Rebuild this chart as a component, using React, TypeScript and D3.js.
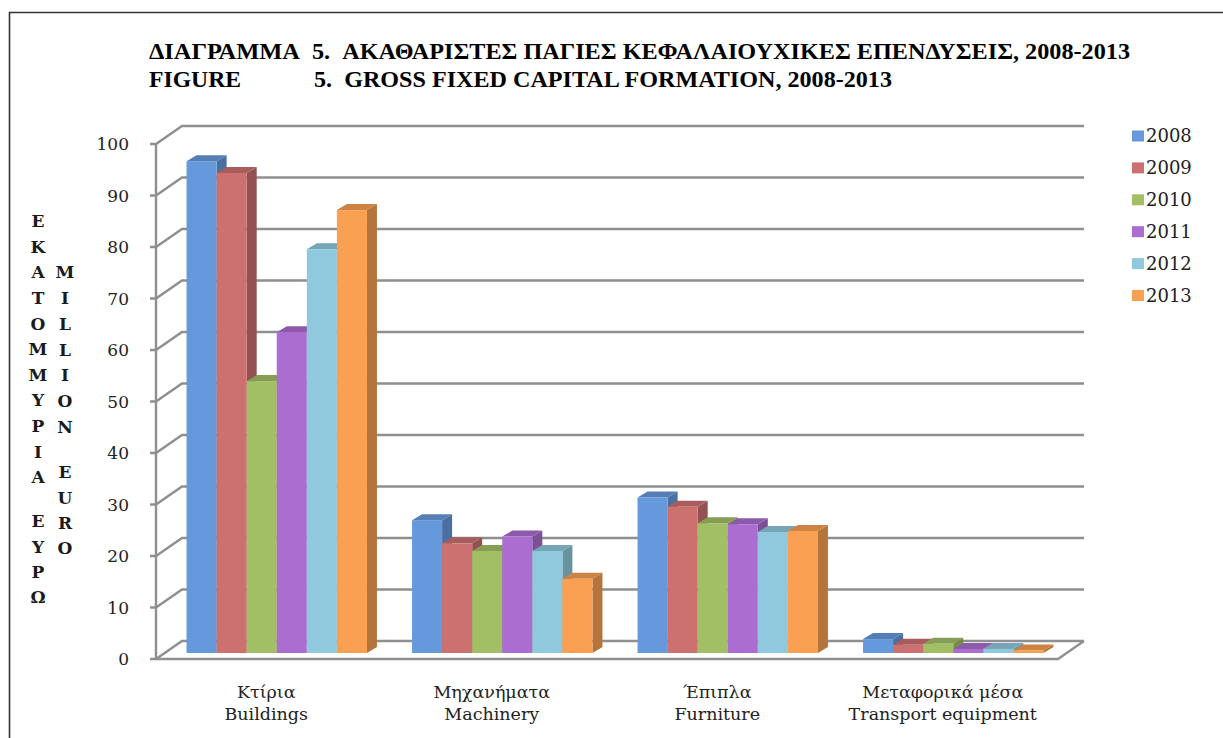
import React from 'react';
import * as d3 from 'd3';

const W = 1223;
const H = 738;

const categoriesGr = ['Κτίρια', 'Μηχανήματα', 'Έπιπλα', 'Μεταφορικά μέσα'];
const categoriesEn = ['Buildings', 'Machinery', 'Furniture', 'Transport equipment'];
const years = ['2008', '2009', '2010', '2011', '2012', '2013'];
const colors = ['#6699dc', '#cc7070', '#a3bf66', '#ab6dd0', '#90c9dd', '#f9a052'];

const v2008 = [95.5, 25.8, 30.2, 2.7];
const v2009 = [93.2, 21.3, 28.4, 1.6];
const v2010 = [52.8, 19.8, 25.2, 1.8];
const v2011 = [62.3, 22.6, 25.0, 0.8];
const v2012 = [78.4, 19.8, 23.5, 0.8];
const v2013 = [86.0, 14.4, 23.7, 0.5];
const series = [v2008, v2009, v2010, v2011, v2012, v2013];

const yTicks = [0, 10, 20, 30, 40, 50, 60, 70, 80, 90, 100];

const greekAxis = ['ΕΚΑΤΟΜΜΥΡΙΑ', 'ΕΥΡΩ'];
const englishAxis = ['MILLION', 'EURO'];

// front plane of the 3d box and how far the back wall is pushed
const frontLeft = 156;
const frontRight = 1058;
const depthX = 26;
const depthY = -18;
const barDepthX = 10;
const barDepthY = -6;
const barLift = 6;
const barShift = 8;

const y = d3.scaleLinear().domain([0, 100]).range([659, 144]);
const x0 = d3.scaleBand<number>()
  .domain(d3.range(categoriesGr.length))
  .range([frontLeft, frontRight])
  .paddingInner(0.2)
  .paddingOuter(0.1);
const x1 = d3.scaleBand<number>()
  .domain(d3.range(years.length))
  .range([0, x0.bandwidth()]);

const gridColor = '#8f8f8f';
const labelFont = '"DejaVu Serif", serif';
const titleFont = '"Liberation Serif", serif';
const textColor = '#222';

const poly = (pts: number[][]) => pts.map(p => p.join(',')).join(' ');

const Bar = ({ left, width, value, color }: { left: number; width: number; value: number; color: string }) => {
  const base = y(0) - barLift;
  const top = base - (y(0) - y(value));
  const right = left + width;
  const side = d3.color(color)!.darker(0.9).formatHex();
  const cap = d3.color(color)!.darker(0.55).formatHex();
  return (
    <g>
      <polygon
        fill={side}
        points={poly([[right, top], [right + barDepthX, top + barDepthY], [right + barDepthX, base + barDepthY], [right, base]])}
      />
      <polygon
        fill={cap}
        points={poly([[left, top], [left + barDepthX, top + barDepthY], [right + barDepthX, top + barDepthY], [right, top]])}
      />
      <rect x={left} y={top} width={width} height={base - top} fill={color} />
    </g>
  );
};

const Column = ({ word, x, start, step }: { word: string; x: number; start: number; step: number }) => (
  <g>
    {word.split('').map((ch, i) => (
      <text
        key={i}
        x={x}
        y={start + i * step}
        dy="0.36em"
        textAnchor="middle"
        fontFamily={labelFont}
        fontWeight="bold"
        fontSize={17}
        fill="#1a1a1a"
      >
        {ch}
      </text>
    ))}
  </g>
);

export default function App() {
  return (
    <svg
      width={W}
      height={H}
      viewBox={`0 0 ${W} ${H}`}
      style={{ position: 'absolute', left: 0, top: 0, background: '#fff' }}
    >
      {/* frame, only top and left show */}
      <path d={`M${W},12.5H9.5V${H}`} fill="none" stroke="#333" strokeWidth={1.6} />

      {/* title */}
      <g fontFamily={titleFont} fontWeight="bold" fontSize={23} fill="#000">
        <text x={149} y={59} textLength={151} lengthAdjust="spacingAndGlyphs">ΔΙΑΓΡΑΜΜΑ</text>
        <text x={312} y={59} textLength={818} lengthAdjust="spacingAndGlyphs">{'5.\u00a0\u00a0ΑΚΑΘΑΡΙΣΤΕΣ ΠΑΓΙΕΣ ΚΕΦΑΛΑΙΟΥΧΙΚΕΣ ΕΠΕΝΔΥΣΕΙΣ, 2008-2013'}</text>
        <text x={149} y={87} textLength={92} lengthAdjust="spacingAndGlyphs">FIGURE</text>
        <text x={314} y={87} textLength={578} lengthAdjust="spacingAndGlyphs">{'5.\u00a0\u00a0GROSS FIXED CAPITAL FORMATION, 2008-2013'}</text>
      </g>

      {/* walls */}
      <g stroke={gridColor} strokeWidth={2.4} fill="none">
        {yTicks.map(t => (
          <path
            key={t}
            d={`M${frontLeft - 6},${y(t)}H${frontLeft}L${frontLeft + depthX},${y(t) + depthY}H${frontRight + depthX}`}
          />
        ))}
        <line x1={frontLeft} x2={frontLeft} y1={y(100)} y2={y(0)} />
        <path d={`M${frontLeft},${y(0)}H${frontRight}L${frontRight + depthX},${y(0) + depthY}`} />
      </g>

      {/* y tick labels */}
      <g fontFamily={labelFont} fontSize={17} fill={textColor} textAnchor="end">
        {yTicks.map(t => (
          <text key={t} x={129} y={y(t)} dy="0.36em">{t}</text>
        ))}
      </g>

      {/* bars, left to right so each covers the side of the one before */}
      {categoriesGr.map((_, c) => (
        <g key={c}>
          {series.map((vals, s) => (
            <Bar
              key={s}
              left={x0(c)! + barShift + x1(s)!}
              width={x1.bandwidth()}
              value={vals[c]}
              color={colors[s]}
            />
          ))}
        </g>
      ))}

      {/* category labels */}
      <g fontFamily={labelFont} fontSize={17.5} fill={textColor} textAnchor="middle">
        {categoriesGr.map((name, c) => (
          <g key={name}>
            <text x={x0(c)! + x0.bandwidth() / 2 - 2.5} y={698}>{name}</text>
            <text x={x0(c)! + x0.bandwidth() / 2 - 2.5} y={720}>{categoriesEn[c]}</text>
          </g>
        ))}
      </g>

      {/* vertical axis titles, one letter per row */}
      <Column word={greekAxis[0]} x={38} start={221} step={25.6} />
      <Column word={greekAxis[1]} x={38} start={521} step={25.4} />
      <Column word={englishAxis[0]} x={65} start={272} step={25.8} />
      <Column word={englishAxis[1]} x={65} start={472} step={25.4} />

      {/* legend */}
      <g fontFamily={labelFont} fontSize={18} fill={textColor}>
        {years.map((yr, i) => (
          <g key={yr} transform={`translate(1132,${136 + i * 31.9})`}>
            <rect x={0} y={-5.5} width={12} height={11} fill={colors[i]} />
            <text x={14} y={0} dy="0.36em">{yr}</text>
          </g>
        ))}
      </g>
    </svg>
  );
}
